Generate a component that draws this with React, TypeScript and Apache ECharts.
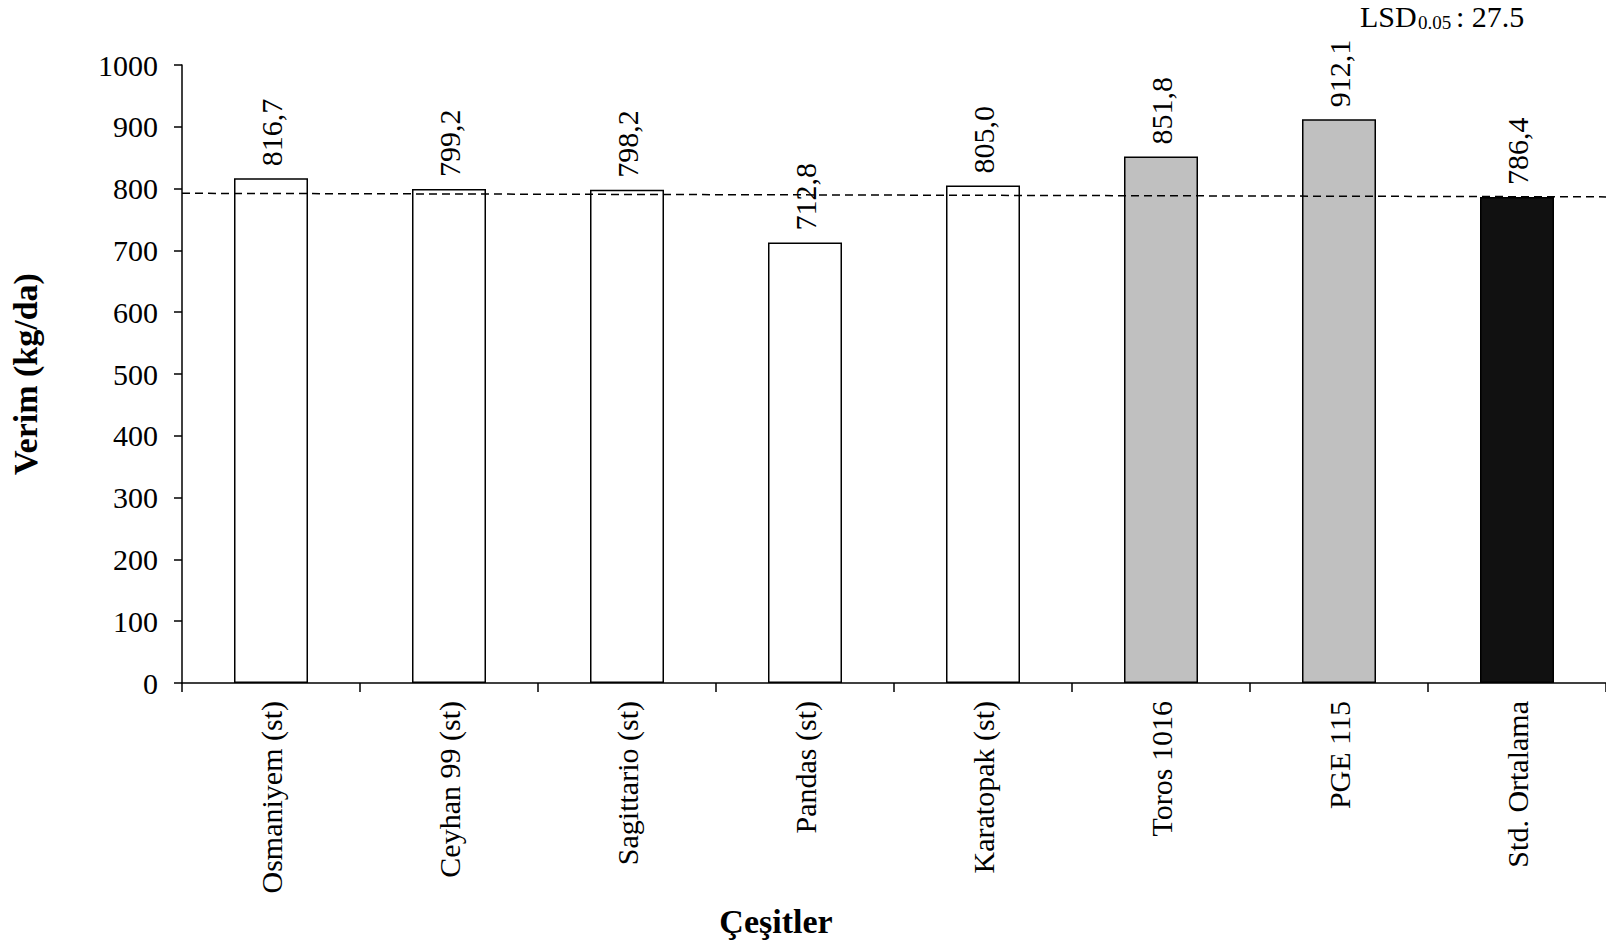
import React, { useEffect, useRef } from "react";
import * as echarts from "echarts";

const categories = [
  "Osmaniyem (st)",
  "Ceyhan 99 (st)",
  "Sagittario (st)",
  "Pandas (st)",
  "Karatopak (st)",
  "Toros 1016",
  "PGE 115",
  "Std. Ortalama",
];
const yieldValues = [816.7, 799.2, 798.2, 712.8, 805.0, 851.8, 912.1, 786.4];
const barFills = ["#ffffff", "#ffffff", "#ffffff", "#ffffff", "#ffffff", "#c0c0c0", "#c0c0c0", "#111111"];
const refLine = [
  [0, 792.4],
  [1, 786.6],
];
const yTicks = { min: 0, max: 1000, interval: 100 };

const FONT = "'Times New Roman', 'Liberation Serif', serif";

export default function App() {
  const ref = useRef<HTMLDivElement>(null);
  useEffect(() => {
    if (!ref.current) return;
    const chart = echarts.init(ref.current, undefined, { renderer: "svg" });
    chart.setOption({
      animation: false,
      backgroundColor: "#ffffff",
      textStyle: { fontFamily: FONT, color: "#000" },
      grid: { left: 170, top: 65, width: 1446, height: 618, containLabel: false },
      xAxis: [
        {
          type: "category",
          data: categories,
          axisLine: { lineStyle: { color: "#000", width: 1.5 } },
          axisTick: { show: true, length: 9, lineStyle: { color: "#000", width: 1.5 } },
          axisLabel: {
            rotate: 90,
            margin: 18,
            fontSize: 30,
            fontFamily: FONT,
            color: "#000",
            interval: 0,
          },
          splitLine: { show: false },
        },
        { type: "value", min: 0, max: 1, show: false },
      ],
      yAxis: {
        type: "value",
        min: yTicks.min,
        max: yTicks.max,
        interval: yTicks.interval,
        name: "Verim (kg/da)",
        nameLocation: "middle",
        nameRotate: 90,
        nameGap: 140,
        nameTextStyle: { fontSize: 34, fontWeight: "bold", fontFamily: FONT, color: "#000" },
        axisLine: { show: true, lineStyle: { color: "#000", width: 1.5 } },
        axisTick: { show: true, length: 8, lineStyle: { color: "#000", width: 1.5 } },
        axisLabel: {
          margin: 24,
          fontSize: 30,
          fontFamily: FONT,
          color: "#000",
          formatter: (v: number) => String(v),
        },
        splitLine: { show: false },
      },
      series: [
        {
          type: "bar",
          barWidth: 74,
          data: yieldValues.map((v, i) => ({
            value: v,
            itemStyle: { color: barFills[i], borderColor: "#000", borderWidth: 1.5 },
          })),
          label: {
            show: true,
            position: "top",
            rotate: 90,
            align: "left",
            verticalAlign: "middle",
            distance: 12,
            fontSize: 30,
            fontFamily: FONT,
            color: "#000",
            formatter: (p: any) => Number(p.value).toFixed(1).replace(".", ","),
          },
          z: 2,
        },
        {
          type: "line",
          xAxisIndex: 1,
          yAxisIndex: 0,
          data: refLine,
          symbol: "none",
          lineStyle: { color: "#000", width: 1.5, type: [8, 5] },
          z: 3,
        },
      ],
      graphic: [
        {
          type: "text",
          left: 1360,
          top: 1,
          style: { text: "LSD", fontSize: 30, fontFamily: FONT, fill: "#000" },
        },
        {
          type: "text",
          left: 1418,
          top: 13,
          style: { text: "0.05", fontSize: 19, fontFamily: FONT, fill: "#000" },
        },
        {
          type: "text",
          left: 1456,
          top: 1,
          style: { text: ": 27.5", fontSize: 30, fontFamily: FONT, fill: "#000" },
        },
        {
          type: "text",
          x: 776,
          y: 921,
          style: {
            text: "Çeşitler",
            fontSize: 34,
            fontWeight: "bold",
            fontFamily: FONT,
            fill: "#000",
            align: "center",
            verticalAlign: "middle",
          },
        },
      ],
    });
    return () => chart.dispose();
  }, []);
  return (
    <div
      ref={ref}
      style={{ position: "fixed", left: 0, top: 0, width: 1606, height: 952, overflow: "hidden", background: "#fff" }}
    />
  );
}
